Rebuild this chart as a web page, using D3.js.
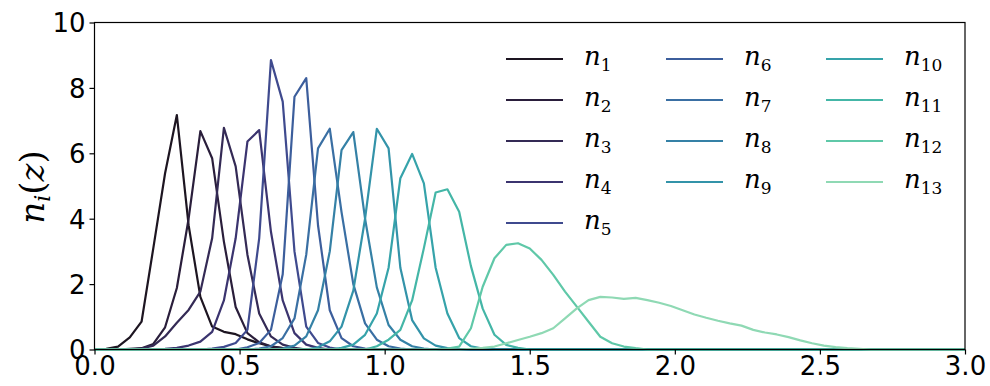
<!DOCTYPE html>
<head>
  <meta charset="utf-8">
  <script src="https://d3js.org/d3.v7.min.js"></script>
  <style>
    body { margin: 0; background: #fff; }
    .tick text { font-family: "DejaVu Sans", sans-serif; font-size: 26px; fill: #000; }
    .tick line { stroke: #000; stroke-width: 1.2px; }
  </style>
</head>
<body>
<script>
// z grid: 75 samples from 0 to 3
var nz = 75, zMax = 3;

// index of first listed value of each bin on the z grid
var firstIdx = [0, 3, 4, 6, 10, 13, 14, 16, 19, 21, 24, 30, 32];

var n1  = [0, 0.02, 0.09, 0.37, 0.85, 3.1, 5.39, 7.17, 3.8, 1.61, 0.70, 0.54, 0.47, 0.31, 0.19, 0.09, 0.04, 0.01];
var n2  = [0.02, 0.04, 0.17, 0.68, 1.88, 4.0, 6.68, 5.85, 3.3, 1.3, 0.5, 0.22, 0.1, 0.04];
var n3  = [0.03, 0.12, 0.4, 0.82, 1.21, 1.77, 3.4, 6.78, 5.6, 2.9, 1.1, 0.4, 0.15, 0.05];
var n4  = [0.02, 0.05, 0.12, 0.24, 0.54, 1.5, 3.4, 6.36, 6.71, 3.6, 1.5, 0.5, 0.15, 0.05];
var n5  = [0.03, 0.08, 0.2, 0.6, 3.4, 8.85, 7.58, 3.0, 0.7, 0.2, 0.06];
var n6  = [0.07, 0.2, 0.6, 2.3, 7.73, 8.3, 3.8, 1.2, 0.35, 0.1, 0.03];
var n7  = [0.03, 0.1, 0.35, 0.95, 2.9, 6.15, 6.75, 4.2, 2.0, 0.8, 0.3, 0.1, 0.03];
var n8  = [0.03, 0.12, 0.4, 1.2, 3.0, 6.1, 6.65, 4.0, 1.9, 0.75, 0.3, 0.1, 0.03];
var n9  = [0.07, 0.25, 0.7, 1.8, 4.0, 6.75, 6.15, 2.5, 0.9, 0.34, 0.12, 0.04];
var n10 = [0.05, 0.15, 0.45, 1.1, 2.5, 5.24, 5.98, 5.08, 2.5, 1.1, 0.35, 0.1, 0.03];
var n11 = [0.1, 0.3, 0.6, 1.5, 3.1, 4.8, 4.9, 4.21, 2.55, 1.25, 0.45, 0.14, 0.05];
var n12 = [0.03, 0.09, 0.65, 1.92, 2.79, 3.2, 3.25, 3.09, 2.74, 2.28, 1.77, 1.31, 0.85, 0.39, 0.19, 0.09, 0.04];
var n13 = [0.02, 0.05, 0.09, 0.19, 0.29, 0.39, 0.5, 0.65, 0.95, 1.26, 1.51, 1.61, 1.59, 1.55, 1.58, 1.51, 1.43, 1.33,
           1.2, 1.07, 0.97, 0.88, 0.80, 0.73, 0.6, 0.52, 0.46, 0.38, 0.28, 0.19, 0.12, 0.07, 0.04, 0.02];

var seriesValues = [n1, n2, n3, n4, n5, n6, n7, n8, n9, n10, n11, n12, n13];
var colors = ["#1d1521", "#2a1e3b", "#342a55", "#3b346f", "#3f4a8e", "#3c5e9c", "#3a6fa3",
              "#3581a6", "#3393a9", "#36a3aa", "#44b6a7", "#5fc8a8", "#8fd9b4"];
var xTicks = [0, 0.5, 1.0, 1.5, 2.0, 2.5, 3.0];
var yTicks = [0, 2, 4, 6, 8, 10];

var width = 990, height = 386;
var plot = {left: 94.5, right: 965, top: 22.5, bottom: 349.5};
var serif = "DejaVu Serif";

var svg = d3.select("body").append("svg")
    .attr("width", width)
    .attr("height", height);

var x = d3.scaleLinear().domain([0, zMax]).range([plot.left, plot.right]);
var y = d3.scaleLinear().domain([0, 10]).range([plot.bottom, plot.top]);

var zGrid = d3.range(nz).map(function(k) { return k * zMax / (nz - 1); });

// pad each bin with zeros over the full grid
var curves = seriesValues.map(function(vals, i) {
  return zGrid.map(function(z, k) {
    var j = k - firstIdx[i];
    return [z, (j >= 0 && j < vals.length) ? vals[j] : 0];
  });
});

var line = d3.line()
    .x(function(d) { return x(d[0]); })
    .y(function(d) { return y(d[1]); });

svg.append("g").selectAll("path")
    .data(curves)
  .enter().append("path")
    .attr("d", line)
    .attr("fill", "none")
    .attr("stroke", function(d, i) { return colors[i]; })
    .attr("stroke-width", 2.2)
    .attr("stroke-linejoin", "round");

// frame
svg.append("rect")
    .attr("x", plot.left).attr("y", plot.top)
    .attr("width", plot.right - plot.left).attr("height", plot.bottom - plot.top)
    .attr("fill", "none").attr("stroke", "#000").attr("stroke-width", 1.2);

svg.append("g")
    .attr("transform", "translate(0," + plot.bottom + ")")
    .call(d3.axisBottom(x).tickValues(xTicks).tickFormat(d3.format(".1f")).tickSizeOuter(0).tickSize(5).tickPadding(2))
    .call(function(g) { g.select(".domain").remove(); });

svg.append("g")
    .attr("transform", "translate(" + plot.left + ",0)")
    .call(d3.axisLeft(y).tickValues(yTicks).tickFormat(d3.format("d")).tickSizeOuter(0).tickSize(5).tickPadding(4))
    .call(function(g) { g.select(".domain").remove(); })
    .selectAll("text").attr("dy", "0.36em");

// y label
var ylab = svg.append("text")
    .attr("transform", "translate(44,187) rotate(-90)")
    .attr("text-anchor", "middle")
    .attr("font-family", serif)
    .attr("font-size", 34);
ylab.append("tspan").attr("font-style", "italic").text("n");
ylab.append("tspan").attr("font-style", "italic").attr("font-size", 22).attr("dy", 6).text("i");
ylab.append("tspan").attr("dy", -6).text("(");
ylab.append("tspan").attr("font-style", "italic").text("z");
ylab.append("tspan").text(")");

// legend: 5 + 4 + 4 entries per column
var legCols = [506, 666, 826], legTop = 59, legStep = 41;
seriesValues.forEach(function(vals, i) {
  var col = i < 5 ? 0 : (i < 9 ? 1 : 2);
  var row = i < 5 ? i : (i < 9 ? i - 5 : i - 9);
  var lx = legCols[col], ly = legTop + row * legStep;
  svg.append("line")
      .attr("x1", lx).attr("x2", lx + 57)
      .attr("y1", ly).attr("y2", ly)
      .attr("stroke", colors[i]).attr("stroke-width", 2.2);
  var t = svg.append("text")
      .attr("x", lx + 78).attr("y", ly + 6)
      .attr("font-family", serif)
      .attr("font-size", 26);
  t.append("tspan").attr("font-style", "italic").text("n");
  t.append("tspan").attr("font-size", 17).attr("dy", 6).text(i + 1);
});
</script>
</body>
